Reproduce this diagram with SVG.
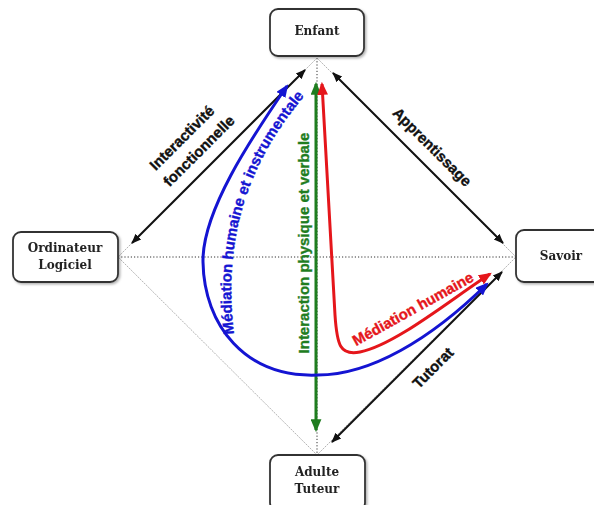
<svg xmlns="http://www.w3.org/2000/svg" width="594" height="505" viewBox="0 0 594 505">
<defs>
<style>
.box{fill:#fff;stroke:#333;stroke-width:1.8}
.nt{font-family:"DejaVu Serif",serif;font-weight:bold;font-size:12px;fill:#222;text-anchor:middle}
.lb{font-family:"Liberation Sans",Arial,sans-serif;font-weight:bold;font-size:15px;text-anchor:middle;stroke-width:0.35}
.dot{stroke:#333;stroke-width:1;stroke-dasharray:1.2,2;fill:none}
.diag{stroke:#aaa;stroke-width:0.9;stroke-dasharray:2,1;fill:none}
.blk{stroke:#111;stroke-width:2;fill:none;marker-start:url(#ak);marker-end:url(#ak)}
</style>
<filter id="sh" x="-10%" y="-10%" width="130%" height="130%"><feDropShadow dx="1.5" dy="1.5" stdDeviation="1" flood-color="#000" flood-opacity="0.3"/></filter>
<marker id="ak" viewBox="0 0 10 10" refX="9" refY="5" markerWidth="10" markerHeight="10" markerUnits="userSpaceOnUse" orient="auto-start-reverse"><path d="M0,1 L10,5 L0,9 Z" fill="#111"/></marker>
<marker id="ag" viewBox="0 0 12 10" refX="10" refY="5" markerWidth="13" markerHeight="11" markerUnits="userSpaceOnUse" orient="auto-start-reverse"><path d="M0,0 L12,5 L0,10 Z" fill="#1f7d1f"/></marker>
<marker id="ar" viewBox="0 0 12 10" refX="10" refY="5" markerWidth="13" markerHeight="11" markerUnits="userSpaceOnUse" orient="auto-start-reverse"><path d="M0,0 L12,5 L0,10 Z" fill="#e5161b"/></marker>
<marker id="ab" viewBox="0 0 12 10" refX="10" refY="5" markerWidth="13" markerHeight="11" markerUnits="userSpaceOnUse" orient="auto-start-reverse"><path d="M0,0 L12,5 L0,10 Z" fill="#1414d2"/></marker>
<path id="bluetxt" d="M234,334 C224,250 240,170 308,92"/>
</defs>
<rect width="594" height="505" fill="#fff"/>
<g id="connectors">
<line class="dot" x1="118" y1="257" x2="516" y2="257"/>
<line class="dot" x1="317" y1="58" x2="317" y2="455"/>
<path class="diag" d="M317,58 L118,257 L317,455 L516,257 Z"/>
<line class="blk" x1="132" y1="243" x2="305" y2="70"/>
<line class="blk" x1="333" y1="73" x2="503" y2="243"/>
<line class="blk" x1="502" y1="272" x2="332" y2="442"/>
<line x1="316" y1="84" x2="316" y2="430" stroke="#1f7d1f" stroke-width="3" marker-start="url(#ag)" marker-end="url(#ag)"/>
<path d="M322,84 L335,315 C337,345 340,356 360,352 C395,345 450,300 490,274" fill="none" stroke="#e5161b" stroke-width="3" marker-start="url(#ar)" marker-end="url(#ar)"/>
<path d="M287,86 C250,140 202,212 203,262 C204,325 245,378 318,375 C370,375 430,340 487,284" fill="none" stroke="#1414d2" stroke-width="3" marker-start="url(#ab)" marker-end="url(#ab)"/>
<text class="lb" fill="#111" stroke="#111" transform="translate(182,138) rotate(-45)" y="5">Interactivité</text>
<text class="lb" fill="#111" stroke="#111" transform="translate(199,151) rotate(-45)" y="5">fonctionnelle</text>
<text class="lb" fill="#111" stroke="#111" transform="translate(432,147) rotate(45)" y="5">Apprentissage</text>
<text class="lb" fill="#111" stroke="#111" transform="translate(433,368) rotate(-45)" y="5">Tutorat</text>
<text class="lb" fill="#1f7d1f" stroke="#1f7d1f" transform="translate(304,243) rotate(-90)" y="5">Interaction physique et verbale</text>
<text class="lb" fill="#e5161b" stroke="#e5161b" transform="translate(413,309) rotate(-29)" y="5">Médiation humaine</text>
<text class="lb" fill="#1414d2" stroke="#1414d2" style="text-anchor:start"><textPath href="#bluetxt">Médiation humaine et instrumentale</textPath></text>
</g>
<g id="enfant" filter="url(#sh)"><rect class="box" x="270" y="9" width="94" height="47" rx="8"/><text class="nt" x="317" y="35">Enfant</text></g>
<g id="ordinateur" filter="url(#sh)"><rect class="box" x="13" y="232" width="105" height="50" rx="8"/><text class="nt" x="65" y="252">Ordinateur</text><text class="nt" x="65" y="269">Logiciel</text></g>
<g id="savoir" filter="url(#sh)"><rect class="box" x="516" y="230" width="90" height="52" rx="8"/><text class="nt" x="561" y="260">Savoir</text></g>
<g id="adulte" filter="url(#sh)"><rect class="box" x="270" y="455" width="95" height="56" rx="8"/><text class="nt" x="317" y="476">Adulte</text><text class="nt" x="317" y="493">Tuteur</text></g>
</svg>
